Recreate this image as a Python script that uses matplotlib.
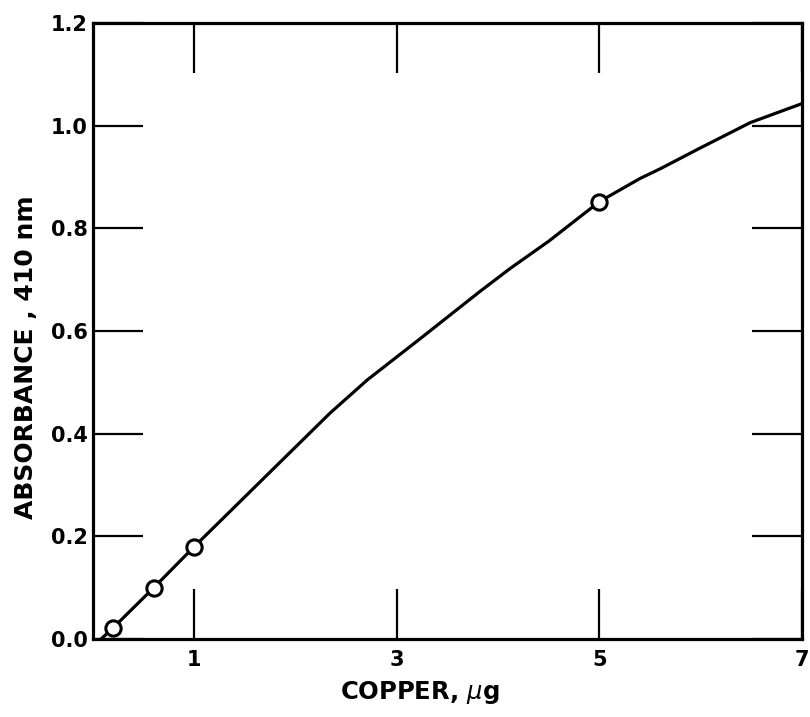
import matplotlib
matplotlib.use("Agg")
import matplotlib.pyplot as plt

# measured points (open circles)
copper_ug = [0.2, 0.6, 1.0, 5.0]
absorbance = [0.022, 0.10, 0.18, 0.852]

# calibration curve
curve_x = [0.08, 0.2, 0.6, 1.0, 1.85, 2.34, 2.71, 3.23, 3.82, 4.12, 4.5, 5.0, 5.4, 5.6, 6.0, 6.49, 7.0]
curve_y = [0.0, 0.022, 0.10, 0.18, 0.345, 0.44, 0.505, 0.585, 0.677, 0.722, 0.775, 0.852, 0.897, 0.916, 0.957, 1.006, 1.043]

x_ticks = [1, 3, 5, 7]
x_labels = ["1", "3", "5", "7"]
y_ticks = [0.0, 0.2, 0.4, 0.6, 0.8, 1.0, 1.2]
y_labels = ["0.0", "0.2", "0.4", "0.6", "0.8", "1.0", "1.2"]

plt.rcParams["font.family"] = ["DejaVu Sans"]

fig = plt.figure(figsize=(8.1, 7.17), dpi=100)
ax = fig.add_axes([93 / 810, 1 - 639 / 717, 709 / 810, 616 / 717])

ax.plot(curve_x, curve_y, color="black", lw=2.3, zorder=2,
        solid_capstyle="round", solid_joinstyle="round")
ax.plot(copper_ug, absorbance, linestyle="none", marker="o", ms=11,
        markerfacecolor="white", markeredgecolor="black", markeredgewidth=2.2, zorder=3)

ax.set_xlim(0, 7)
ax.set_ylim(0, 1.2)

ax.set_xticks(x_ticks)
ax.set_xticklabels(x_labels)
ax.set_yticks(y_ticks)
ax.set_yticklabels(y_labels)

ax.tick_params(axis="both", direction="in", length=36, width=1.6,
               top=True, right=True, labelsize=15)
ax.tick_params(axis="y", pad=4)
ax.tick_params(axis="x", pad=8)
for lab in ax.get_xticklabels() + ax.get_yticklabels():
    lab.set_fontweight("bold")

for sp in ax.spines.values():
    sp.set_linewidth(2.3)

fig.text(420 / 810, 1 - 693 / 717, "COPPER, $\\mu$g", ha="center", va="center",
         fontsize=17.5, fontweight="bold")
fig.text(26 / 810, 1 - 357 / 717, "ABSORBANCE , 410 nm", ha="center", va="center",
         rotation=90, fontsize=18, fontweight="bold")

fig.savefig("out.png", dpi=100)
